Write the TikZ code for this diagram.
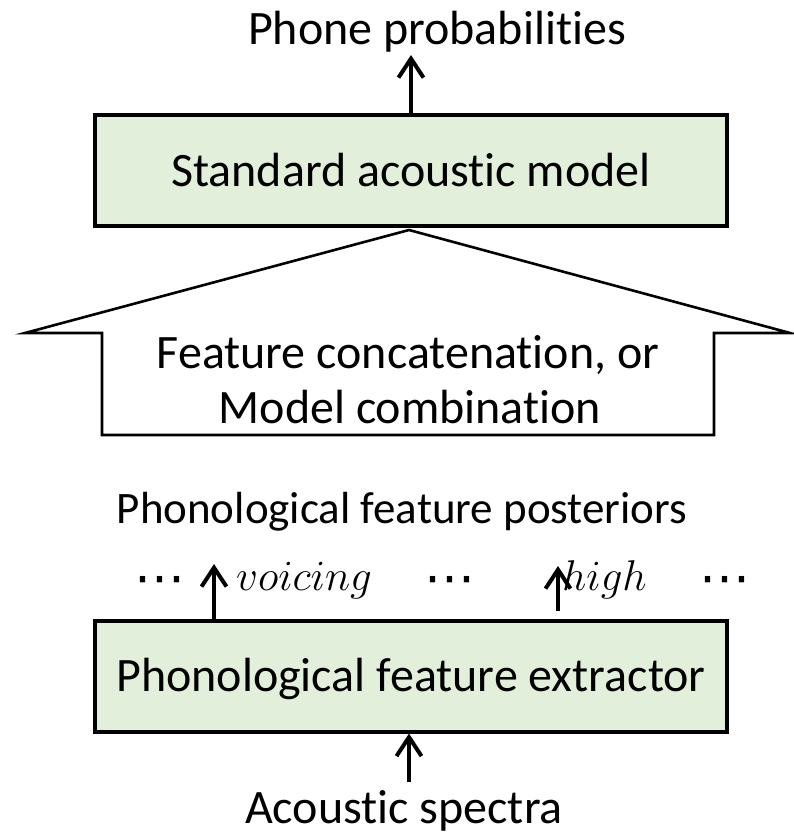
\RequirePackage{fix-cm}
\documentclass[tikz,border=0pt]{standalone}
\usepackage{fontspec}
\setmainfont{Carlito}[Ligatures={NoCommon}]
\newfontfamily\dotsfont{DejaVu Sans}
\usetikzlibrary{arrows.meta}
\definecolor{boxgreen}{HTML}{E2EFDA}
\tikzset{
  label/.style={font=\fontsize{48}{58}\selectfont, inner sep=0pt},
  modelbox/.style={draw=black, line width=4pt, fill=boxgreen, minimum width=632pt,
    minimum height=111pt, inner sep=0pt, text height=31pt, text depth=0pt,
    font=\fontsize{48}{58}\selectfont},
  flow/.style={line width=4pt, -{Straight Barb[length=19pt,width=25pt,line width=4pt]}},
  feat/.style={font=\fontsize{43}{50}\selectfont, inner sep=0pt, anchor=base west},
  ellip/.style={font=\dotsfont\fontsize{51}{60}\selectfont, inner sep=0pt, anchor=base},
}
\begin{document}
\begin{tikzpicture}[x=1pt,y=-1pt]
\useasboundingbox (0,0) rectangle (794,835);

% output label and acoustic model
\node[label, anchor=base] (phones) at (437,44) {Phone probabilities};
\node[modelbox] (am) at (411,170.5) {Standard acoustic model};
\coordinate (phonetip) at (411,55);
\draw[flow] (am.north -| phonetip) -- (phonetip);

% block arrow for combining the features
\draw[line width=2.6pt, line join=miter, fill=white]
  (409,230) -- (790,333) -- (714,333) -- (714,435) -- (102,435) -- (102,333) -- (25,333) -- cycle;
\node[label, anchor=base] (comb1) at (408,368) {Feature concatenation, or};
\node[label, anchor=base] (comb2) at (410,423) {Model combination};

% phonological feature outputs
\node[label, anchor=base, font=\fontsize{45}{54}\selectfont] (post) at (402,523) {Phonological feature posteriors};
\node[modelbox] (pfe) at (411,676) {Phonological feature extractor};

\node[ellip] (dots1) at (160,595) {⋯};
\node[feat] (voicing) at (236,590) {$voicing$};
\node[ellip] (dots2) at (450,595) {⋯};
\node[feat] (high) at (562,590) {$high$};
\node[ellip] (dots3) at (725,595) {⋯};

\coordinate (vtop) at (214,564);
\coordinate (htop) at (558,566);
\draw[flow] (pfe.north -| vtop) -- (vtop);
\draw[flow, shorten <=8pt] (pfe.north -| htop) -- (htop);

% input
\node[label, anchor=base] (spectra) at (404,823) {Acoustic spectra};
\coordinate (spectop) at (409,782);
\draw[flow] (spectop) -- (pfe.south -| spectop);
\end{tikzpicture}
\end{document}
